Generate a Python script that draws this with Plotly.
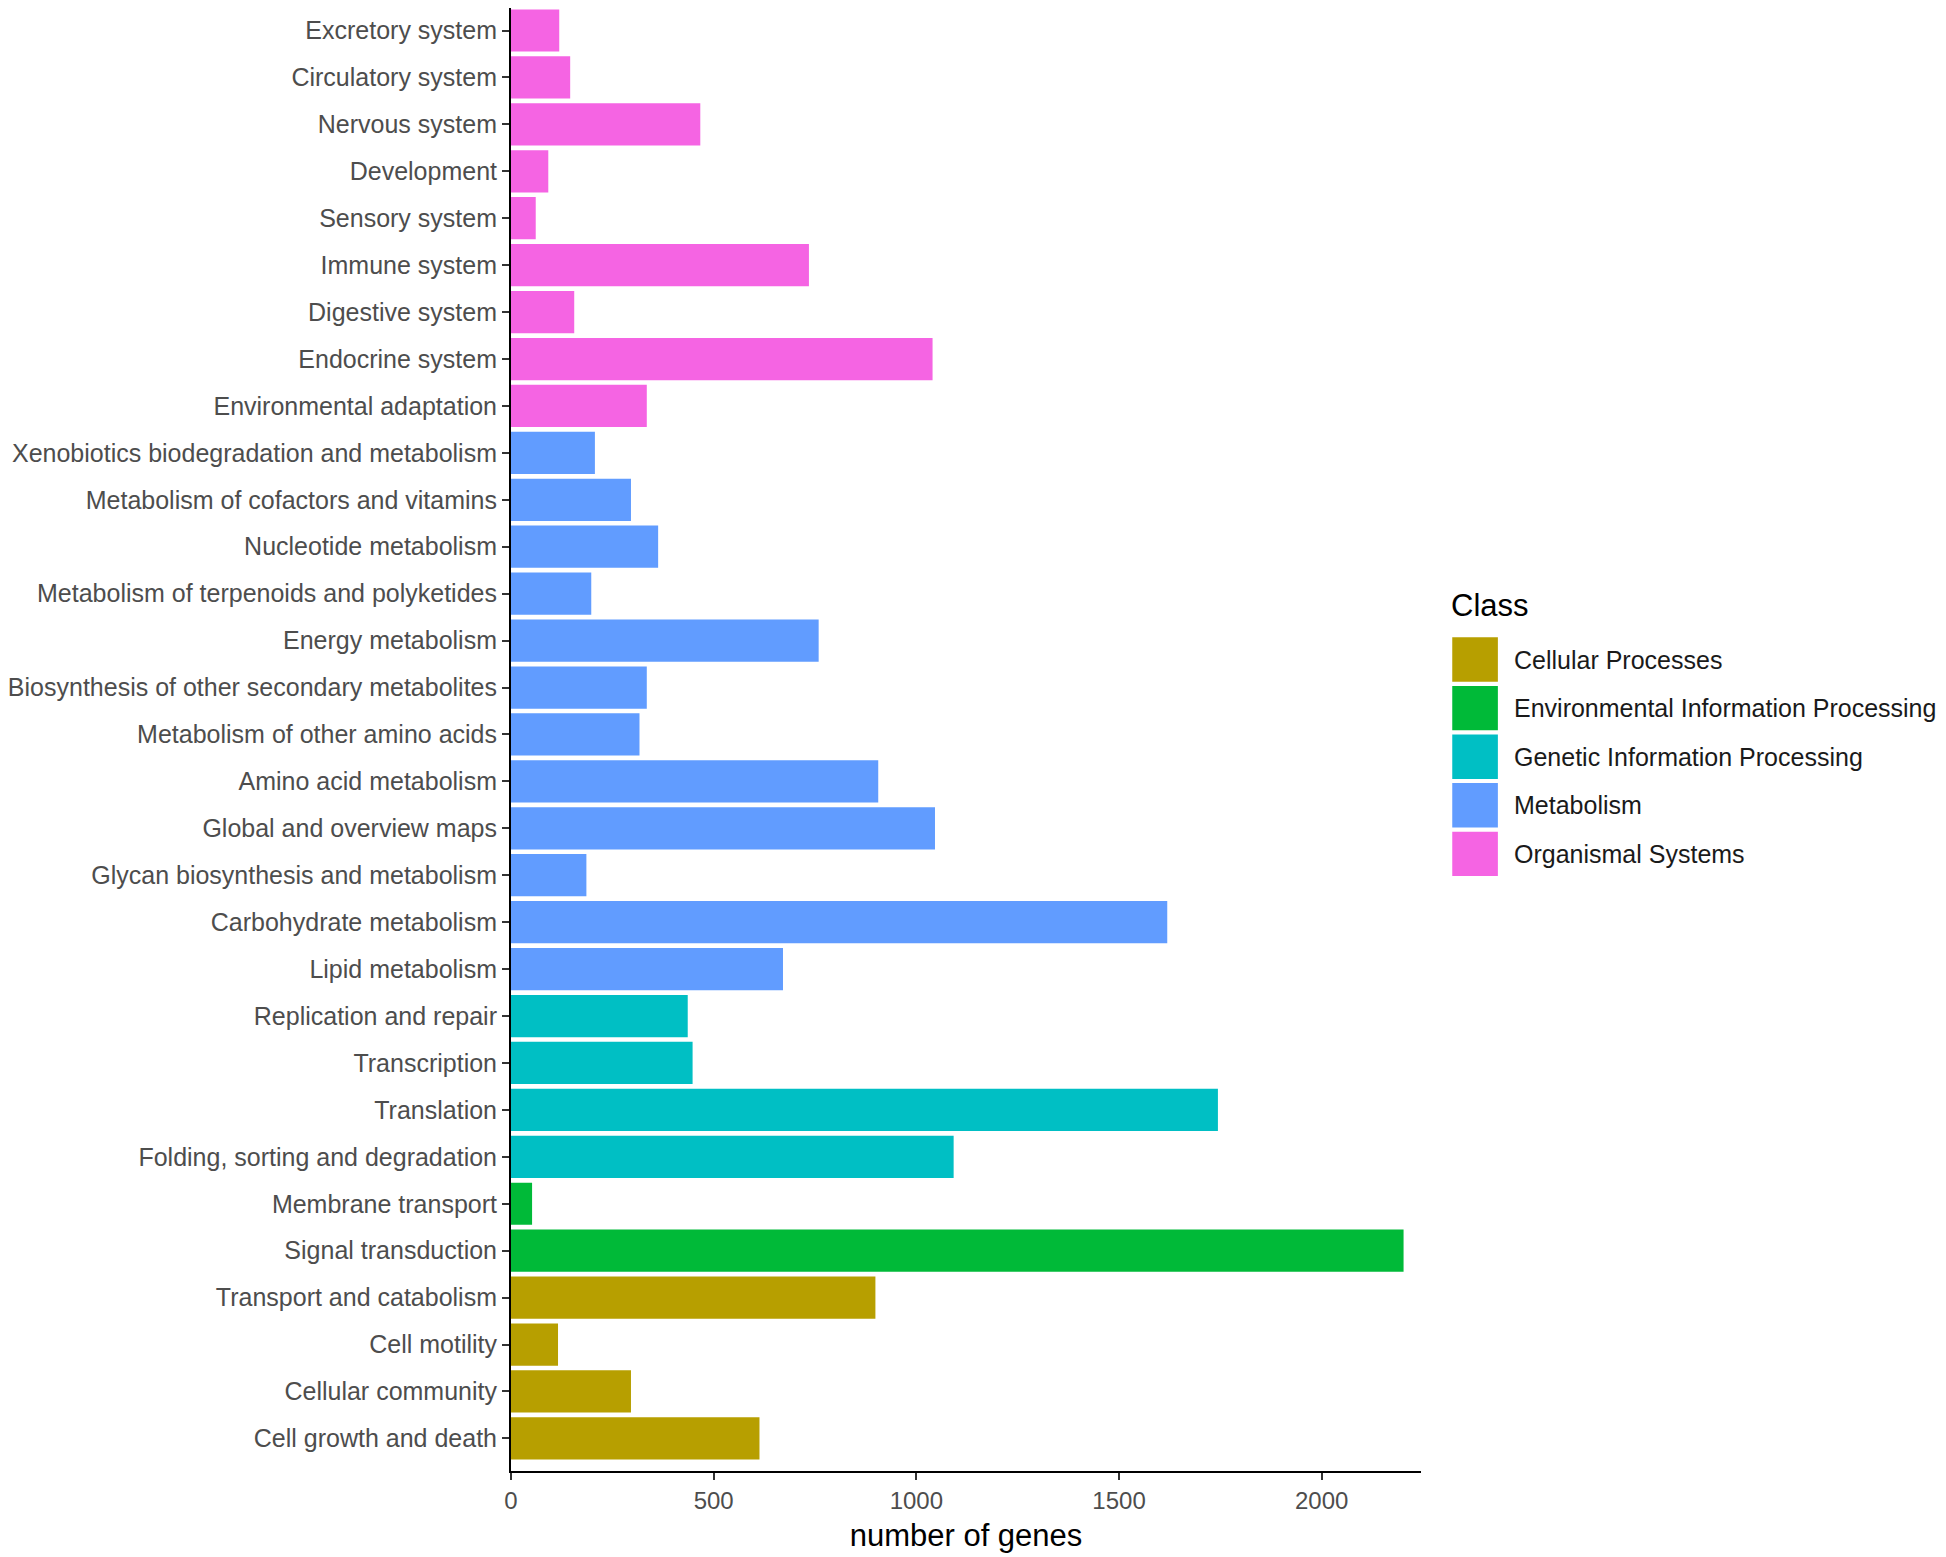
import plotly.graph_objects as go

categories = [
    "Excretory system", "Circulatory system", "Nervous system", "Development",
    "Sensory system", "Immune system", "Digestive system", "Endocrine system",
    "Environmental adaptation", "Xenobiotics biodegradation and metabolism",
    "Metabolism of cofactors and vitamins", "Nucleotide metabolism",
    "Metabolism of terpenoids and polyketides", "Energy metabolism",
    "Biosynthesis of other secondary metabolites", "Metabolism of other amino acids",
    "Amino acid metabolism", "Global and overview maps",
    "Glycan biosynthesis and metabolism", "Carbohydrate metabolism",
    "Lipid metabolism", "Replication and repair", "Transcription", "Translation",
    "Folding, sorting and degradation", "Membrane transport", "Signal transduction",
    "Transport and catabolism", "Cell motility", "Cellular community",
    "Cell growth and death",
]
OS, ME, GI, EI, CP = ("Organismal Systems", "Metabolism", "Genetic Information Processing",
                      "Environmental Information Processing", "Cellular Processes")
category_class = [OS] * 9 + [ME] * 12 + [GI] * 4 + [EI] * 2 + [CP] * 4
gene_counts = [119, 146, 467, 92, 61, 735, 156, 1040, 335,
               207, 296, 363, 198, 759, 335, 317, 906, 1046, 186, 1619, 671,
               436, 448, 1744, 1092,
               52, 2202,
               899, 116, 296, 613]

class_names = [CP, EI, GI, ME, OS]
class_colors = ["#B79F00", "#00BA38", "#00BFC4", "#619CFF", "#F564E3"]

x_ticks = [0, 500, 1000, 1500, 2000]

FONT = "Liberation Sans, Arial, Helvetica, sans-serif"
OFF = 8  # page body margin
FIG_W, FIG_H = 1946 - OFF, 1557 - OFF
# plot area in window pixels
PX0, PX1 = 509.3, 1420.7
PY0, PY1 = OFF, 1471
L, R = PX0 - OFF, FIG_W - (PX1 - OFF)
T, B = PY0 - OFF, FIG_H - (PY1 - OFF)
PW, PH = PX1 - PX0, PY1 - PY0
X_MAX = 2245
row_pitch = 46.93
first_center = 30.5
y_top = -(first_center - PY0) / row_pitch
y_bot = y_top + PH / row_pitch

fig = go.Figure()
for cname, col in zip(class_names, class_colors):
    ys = [c for c, k in zip(categories, category_class) if k == cname]
    xs = [v for v, k in zip(gene_counts, category_class) if k == cname]
    fig.add_trace(go.Bar(x=xs, y=ys, orientation="h", name=cname,
                         marker=dict(color=col, line=dict(width=0)),
                         width=0.9, showlegend=False))

def px2paper(px, py):
    return (px - PX0) / PW, 1 - (py - PY0) / PH

shapes = []
annotations = []
tx, ty = px2paper(1449, 605.5)
annotations.append(dict(x=tx, y=ty, xref="paper", yref="paper", text="Class",
                        showarrow=False, xanchor="left", yanchor="middle",
                        font=dict(family=FONT, size=31, color="#000000")))
key_x0, key_x1 = 1452, 1497.7
first_top, pitch, key_h = 637.3, 48.6, 44.4
for i, (cname, col) in enumerate(zip(class_names, class_colors)):
    y0p = first_top + i * pitch
    xa, ya = px2paper(key_x0, y0p)
    xb, yb = px2paper(key_x1, y0p + key_h)
    shapes.append(dict(type="rect", xref="paper", yref="paper", x0=xa, x1=xb,
                       y0=yb, y1=ya, fillcolor=col, line=dict(width=0)))
    lx, ly = px2paper(1512, y0p + key_h / 2)
    annotations.append(dict(x=lx, y=ly, xref="paper", yref="paper", text=cname,
                            showarrow=False, xanchor="left", yanchor="middle",
                            font=dict(family=FONT, size=25, color="#1A1A1A")))

fig.update_layout(
    width=FIG_W, height=FIG_H,
    margin=dict(l=L, r=R, t=T, b=B, pad=0),
    paper_bgcolor="white", plot_bgcolor="white",
    barmode="overlay",
    shapes=shapes, annotations=annotations,
    font=dict(family=FONT),
    xaxis=dict(range=[0, X_MAX], tickvals=x_ticks, ticktext=[str(v) for v in x_ticks],
               showgrid=False, zeroline=False, showline=True, linecolor="#000000",
               linewidth=2, ticks="outside", ticklen=7, tickwidth=2, tickcolor="#333333",
               tickfont=dict(family=FONT, size=24, color="#4D4D4D"),
               title=dict(text="number of genes", standoff=12,
                          font=dict(family=FONT, size=31, color="#000000"))),
    yaxis=dict(type="category", categoryorder="array", categoryarray=categories,
               range=[y_bot, y_top], showgrid=False, zeroline=False, showline=True,
               linecolor="#000000", linewidth=2, ticks="outside", ticklen=7,
               tickwidth=2, tickcolor="#333333",
               tickfont=dict(family=FONT, size=25, color="#4D4D4D")),
)

fig.write_html("out.html")
